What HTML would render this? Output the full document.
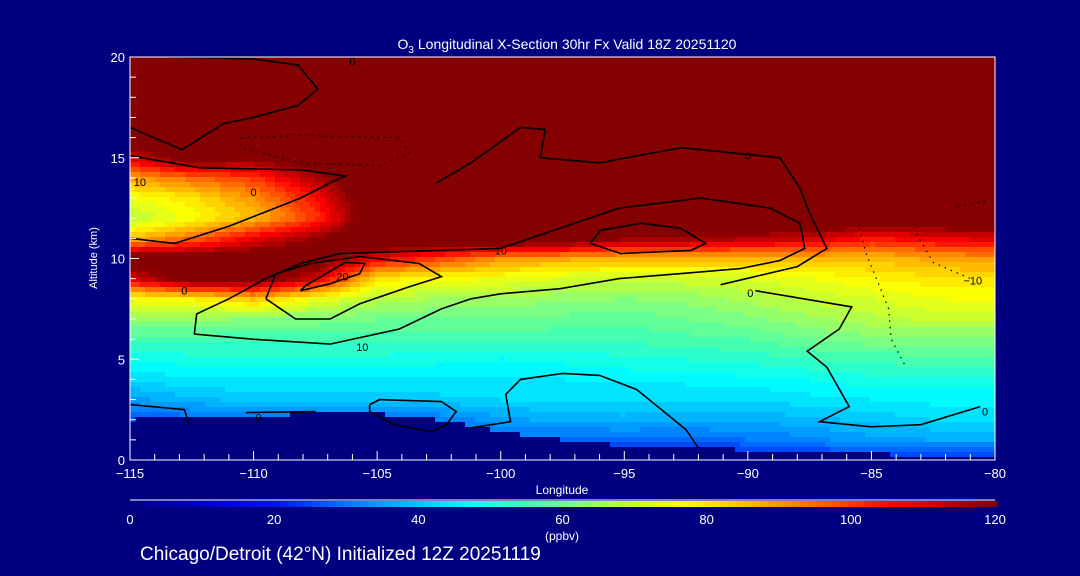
<!DOCTYPE html>
<html><head><meta charset="utf-8">
<style>
html,body{margin:0;padding:0;background:#000080;}
#wrap{position:relative;width:1080px;height:576px;background:#000080;overflow:hidden;font-family:"Liberation Sans",sans-serif;color:#fff;}
svg text{font-family:"Liberation Sans",sans-serif;fill:#fff;}
</style></head>
<body>
<div id="wrap">
<svg id="chart" width="1080" height="576" xmlns="http://www.w3.org/2000/svg">
  <g id="field"></g>
  <g id="contours"></g>
  <g id="axes"></g>
  <g id="cbar"></g>
  <text x="567" y="49" text-anchor="middle" font-size="14">O<tspan font-size="10" dy="4">3</tspan><tspan dy="-4"> Longitudinal X-Section 30hr  Fx Valid 18Z 20251120</tspan></text>
  <text x="0" y="0" transform="translate(97,258) rotate(-90)" text-anchor="middle" font-size="11">Altitude (km)</text>
  <text x="562" y="494" text-anchor="middle" font-size="12">Longitude</text>
  <text x="562" y="540" text-anchor="middle" font-size="12">(ppbv)</text>
  <text x="140" y="560" font-size="19">Chicago/Detroit (42°N) Initialized 12Z 20251119</text>
</svg>
</div>
<script>
const lons=[-115,-112.5,-110,-107.5,-105,-102.5,-100,-97.5,-95,-92.5,-90,-87.5,-85,-82.5,-80];
const alts=[0,1,2,3,4,5,6,7,8,9,10,11,12,13,14,15,16,17,18,19,20];
const o3=[
[15,15,15,15,15,18,18,18,18,18,18,20,22,22,22],
[20,20,20,20,20,25,28,28,28,28,30,32,35,36,36],
[25,28,30,30,28,30,35,37,38,37,37,38,40,42,42],
[35,38,40,40,40,41,42,42,42,42,42,44,45,46,46],
[42,45,45,45,45,45,45,45,46,46,47,48,50,50,50],
[48,50,50,50,50,49,48,49,50,51,52,54,55,56,56],
[55,55,55,55,55,55,55,55,55,56,57,60,62,62,62],
[65,65,62,62,60,60,60,59,58,60,62,65,68,70,70],
[75,78,85,75,68,66,65,64,63,64,67,70,72,75,76],
[110,125,125,112,80,76,75,72,70,71,72,75,78,80,80],
[125,125,125,125,108,100,90,88,86,86,85,85,85,88,90],
[85,95,108,118,130,130,130,128,118,118,115,112,105,108,110],
[68,76,85,100,128,130,130,130,130,130,130,130,128,128,128],
[75,80,90,105,130,130,130,130,130,130,130,130,130,130,130],
[88,95,100,115,130,130,130,130,130,130,130,130,130,130,130],
[110,125,120,130,130,130,130,130,130,130,130,130,130,130,130],
[130,130,130,130,130,130,130,130,130,130,130,130,130,130,130],
[130,130,130,130,130,130,130,130,130,130,130,130,130,130,130],
[130,130,130,130,130,130,130,130,130,130,130,130,130,130,130],
[130,130,130,130,130,130,130,130,130,130,130,130,130,130,130],
[130,130,130,130,130,130,130,130,130,130,130,130,130,130,130]
];
const terrain=[2.0,2.1,2.2,2.3,2.3,2.0,1.4,1.0,0.7,0.6,0.5,0.4,0.3,0.2,0.2];
const xTicks=[-115,-110,-105,-100,-95,-90,-85,-80];
const xTickLabels=["\u2212115","\u2212110","\u2212105","\u2212100","\u221295","\u221290","\u221285","\u221280"];
const yTicks=[0,5,10,15,20];
const cbTicks=[0,20,40,60,80,100,120];
const contourSolid=[
 [[-113.4,20],[-110,19.9],[-108.2,19.6],[-107.4,18.4],[-108.2,17.6],[-110,17.0],[-111.2,16.7],[-112.9,15.4],[-115,16.5]],
 [[-115,11],[-113.2,10.75],[-111,11.6],[-108.1,13],[-106.9,13.75],[-106.3,14.1],[-108.1,14.4],[-112.2,14.5],[-115,15.1]],
 [[-96.37,10.75],[-95.96,11.4],[-94.34,11.75],[-92.72,11.5],[-91.71,10.75],[-92.3,10.4],[-95.15,10.25],[-96.37,10.75]],
 [[-109.5,8.0],[-109.1,9.25],[-107.7,9.75],[-105.7,10.1],[-103.3,9.75],[-102.4,9.1],[-103.7,8.6],[-105.7,7.75],[-106.9,7.0],[-108.3,7.0],[-109.5,8.0]],
 [[-108.1,8.4],[-106.9,8.75],[-105.7,9.25],[-105.5,9.75],[-106.3,9.8],[-107.9,8.65],[-108.1,8.4]],
 [[-112.4,6.25],[-112.3,7.25],[-111,8.0],[-109.5,9.0],[-108.1,9.75],[-106.5,10.25],[-100,10.5],[-97.6,11.5],[-95.2,12.5],[-91.9,13],[-89.1,12.5],[-87.9,11.75],[-87.7,10.5],[-88.7,9.9],[-90.3,9.5],[-92.7,9.25],[-95.2,9.0],[-97.6,8.5],[-100,8.25],[-101.2,8.0],[-102.4,7.5],[-104.1,6.5],[-106.9,5.75],[-110.1,6.0],[-112.4,6.25]],
 [[-102.6,13.75],[-101.2,14.75],[-99.2,16.5],[-98.2,16.4],[-98.4,15],[-96,14.75],[-92.7,15.5],[-88.7,15],[-87.9,13.5],[-87.5,12.25],[-86.8,10.5],[-88,9.6],[-91.1,8.7]],
 [[-89.7,8.4],[-85.8,7.6],[-86.3,6.5],[-87.6,5.4],[-86.8,4.6],[-85.9,2.65],[-87.1,1.9],[-85,1.65],[-83,1.75],[-80.6,2.65]],
 [[-115,2.75],[-112.8,2.5],[-112.6,1.75]],
 [[-110.3,2.35],[-107.5,2.4]],
 [[-105.3,2.75],[-104.9,3],[-102.4,2.9],[-101.8,2.4],[-102.2,1.75],[-102.8,1.4],[-104.3,1.75],[-105.3,2.4],[-105.3,2.75]],
 [[-101.2,1.6],[-99.6,1.9],[-99.8,3.25],[-99.2,4],[-97.5,4.3],[-96,4.2],[-94.5,3.5],[-93.5,2.5],[-92.5,1.5],[-92,0.6]]
];
const contourDotted=[
 [[-110.5,16],[-108.1,16.1],[-104.1,16],[-103.7,15.25],[-104.9,14.6],[-108.1,14.75],[-110.5,15.5],[-110.5,16]],
 [[-85.5,11.5],[-85.2,10.2],[-84.8,9],[-84.3,7.5],[-84.2,6],[-83.6,4.6]],
 [[-81.5,12.6],[-80.2,12.9]],
 [[-83.3,11.5],[-82.5,9.8],[-81,9]]
];
const contourLabels=[["0",-106,19.8],["0",-110,13.3],["10",-114.6,13.8],["0",-112.8,8.4],["20",-106.4,9.1],["10",-105.6,5.6],["10",-100,10.4],["0",-89.9,8.3],["0",-80.4,2.4],["\u221210",-80.9,8.9],["0",-109.8,2.1],["0",-90,15.1]];

const X0=130,X1=995,Y0=460,Y1=57;
function xs(l){return X0+(l+115)/35*(X1-X0);}
function ys(a){return Y0-a/20*(Y0-Y1);}
const NS="http://www.w3.org/2000/svg";
function mk(t,attrs,parent){const e=document.createElementNS(NS,t);for(const k in attrs)e.setAttribute(k,attrs[k]);parent.appendChild(e);return e;}
const stops=[[0,[0,0,128]],[10,[0,0,200]],[20,[0,16,255]],[30,[0,120,255]],[40,[0,200,255]],[47,[0,255,255]],[55,[64,255,180]],[62,[128,255,128]],[70,[200,255,50]],[77,[255,255,0]],[90,[255,150,0]],[106,[255,0,0]],[120,[128,0,0]]];
function cmap(v){if(v<=0)return "rgb(0,0,128)";if(v>=120)return "rgb(133,0,0)";
 for(let i=1;i<stops.length;i++){if(v<=stops[i][0]){const a=stops[i-1],b=stops[i],t=(v-a[0])/(b[0]-a[0]);
  const c=a[1].map((q,j)=>Math.round(q+(b[1][j]-q)*t));return "rgb("+c.join(",")+")";}}return "rgb(133,0,0)";}
function interp1(arr,xv,grid){let i=0;while(i<grid.length-2&&xv>grid[i+1])i++;const t=Math.max(0,Math.min(1,(xv-grid[i])/(grid[i+1]-grid[i])));return [i,t];}
function valAt(l,a){const [i,ti]=interp1(null,l,lons);const [j,tj]=interp1(null,a,alts);
 const v00=o3[j][i],v01=o3[j][i+1],v10=o3[j+1][i],v11=o3[j+1][i+1];
 return (v00*(1-ti)+v01*ti)*(1-tj)+(v10*(1-ti)+v11*ti)*tj;}
function terrAt(l){const [i,t]=interp1(null,l,lons);return terrain[i]*(1-t)+terrain[i+1]*t;}
const field=document.getElementById('field');
const cs=5;
for(let px=X0;px<X1;px+=cs){
 for(let py=Y1;py<Y0;py+=cs){
  const l=-115+((px+cs/2)-X0)/(X1-X0)*35;
  const a=(Y0-(py+cs/2))/(Y0-Y1)*20;
  let col;
  if(a<terrAt(l)) col="rgb(0,0,128)";
  else {const v=Math.floor(valAt(l,a)/3)*3+1.5;col=cmap(v);}
  const r=mk('rect',{x:px,y:py,width:Math.min(cs,X1-px),height:Math.min(cs,Y0-py),fill:col},field);
  
  
 }
}
const cg=document.getElementById('contours');
function pts(c){return c.map(p=>xs(p[0]).toFixed(1)+","+ys(p[1]).toFixed(1)).join(" ");}
contourSolid.forEach(c=>{const e=mk('polyline',{points:pts(c),fill:'none',stroke:'#000','stroke-width':1.6},cg);
 
 });
contourDotted.forEach(c=>{const e=mk('polyline',{points:pts(c),fill:'none',stroke:'#000','stroke-width':1.2,'stroke-dasharray':'1.5 5'},cg);
 
 });
contourLabels.forEach(c=>{const t=mk('text',{x:xs(c[1]),y:ys(c[2])+4,'font-size':11,'text-anchor':'middle',style:'fill:#000'},cg);t.textContent=c[0];
 
 });
const ax=document.getElementById('axes');
let e=mk('rect',{x:X0,y:Y1,width:X1-X0,height:Y0-Y1,fill:'none',stroke:'#fff','stroke-width':1},ax);


for(let l=-115;l<=-80;l++){const major=xTicks.indexOf(l)>=0;const t=mk('line',{x1:xs(l),x2:xs(l),y1:Y0,y2:Y0-(major?9:6),stroke:'#fff'},ax);
 
 }
xTicks.forEach((l,i)=>{const t=mk('text',{x:xs(l),y:Y0+18,'text-anchor':'middle','font-size':13},ax);t.textContent=xTickLabels[i];
 
 });
for(let a=0;a<=20;a++){const t=mk('line',{x1:X0,x2:X0+(a%5==0?9:6),y1:ys(a),y2:ys(a),stroke:'#fff'},ax);
 
 }
yTicks.forEach(a=>{const t=mk('text',{x:X0-5,y:ys(a)+5,'text-anchor':'end','font-size':13},ax);t.textContent=String(a);
 
 });
const cb=document.getElementById('cbar');
e=mk('line',{x1:X0,x2:X1,y1:500,y2:500,stroke:'#fff'},cb);


for(let px=X0;px<X1+2;px+=2){const v=(px-X0)/(X1-X0)*120;const r=mk('rect',{x:px,y:501,width:2,height:6,fill:cmap(Math.min(v,119.9))},cb);
 
 }
cbTicks.forEach(v=>{const t=mk('text',{x:X0+v/120*(X1-X0),y:524,'text-anchor':'middle','font-size':13},cb);t.textContent=String(v);
 
 });
</script>
</body></html>
